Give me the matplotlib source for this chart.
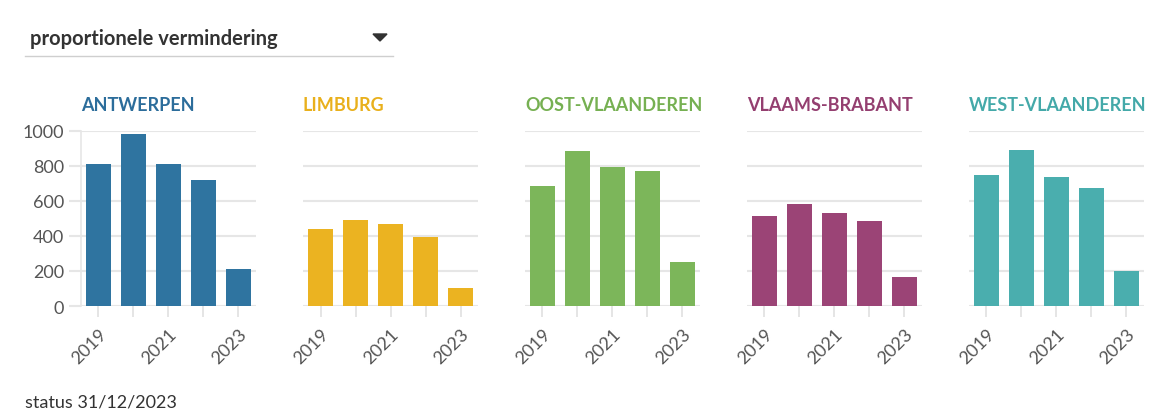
import numpy as np
import matplotlib
matplotlib.use("Agg")
import matplotlib.pyplot as plt
from matplotlib.lines import Line2D
from matplotlib.patches import Polygon

plt.rcParams['font.family'] = ['Lato', 'DejaVu Sans']

years = [2019, 2020, 2021, 2022, 2023]
year_labels = ["2019", "", "2021", "", "2023"]
provinces = ["ANTWERPEN", "LIMBURG", "OOST-VLAANDEREN", "VLAAMS-BRABANT", "WEST-VLAANDEREN"]
antwerpen = [809, 983, 811, 722, 209]
limburg = [438, 489, 468, 392, 104]
oost_vlaanderen = [683, 885, 794, 770, 251]
vlaams_brabant = [515, 581, 530, 487, 166]
west_vlaanderen = [749, 891, 738, 677, 198]
values = [antwerpen, limburg, oost_vlaanderen, vlaams_brabant, west_vlaanderen]
colors = ["#2f74a0", "#ebb321", "#7cb65a", "#9b4476", "#4aaeae"]
title_colors = ["#2c6d9b", "#e9b01c", "#76b052", "#943f70", "#44a9a9"]
y_ticks = [0, 200, 400, 600, 800, 1000]

W, H = 1171, 414
fig = plt.figure(figsize=(W / 100, H / 100), dpi=100)
fig.patch.set_facecolor("white")

# dropdown header
fig.text(30 / W, 1 - 39 / H, "proportionele vermindering", fontsize=14.5, fontweight="bold",
         color="#333333", va="center", ha="left")
fig.add_artist(Line2D([25 / W, 393 / W], [1 - 57 / H, 1 - 57 / H], transform=fig.transFigure,
                      color="#cfcfcf", lw=1))
fig.add_artist(Polygon([[373 / W, 1 - 35 / H], [387 / W, 1 - 35 / H], [380 / W, 1 - 42 / H]],
                       closed=True, transform=fig.transFigure, color="#333333"))

ax_bottom = (H - 307) / H
ax_height = 175 / H
for i, (name, vals) in enumerate(zip(provinces, values)):
    left = (81 + i * 222) / W
    ax = fig.add_axes([left, ax_bottom, 175 / W, ax_height])
    ax.bar(years, vals, width=0.74, color=colors[i], zorder=2)
    ax.set_xlim(2018.5, 2023.5)
    ax.set_ylim(0, 1000)
    ax.set_yticks(y_ticks)
    ax.yaxis.grid(True, color="#e6e6e6", lw=1.5, zorder=0)
    ax.set_xticks(years)
    ax.set_xticklabels(year_labels, rotation=45, ha="right", rotation_mode="anchor")
    ax.tick_params(axis="x", length=8, width=1.2, color="#e0e0e0", labelsize=13,
                   labelcolor="#555555", pad=6)
    for s in ["top", "right", "bottom"]:
        ax.spines[s].set_visible(False)
    if i == 0:
        ax.spines["left"].set_color("#e6e6e6")
        ax.spines["left"].set_linewidth(1.2)
        ax.tick_params(axis="y", length=9, width=1.5, color="#e6e6e6", labelsize=13,
                       labelcolor="#555555", pad=3)
    else:
        ax.spines["left"].set_visible(False)
        ax.tick_params(axis="y", left=False, labelleft=False)
    ax.set_axisbelow(True)
    ax.text(0, 1 + 21 / 175, name, transform=ax.transAxes, fontsize=13, fontweight="bold",
            color=title_colors[i], ha="left", va="baseline")

fig.text(25 / W, 1 - 403 / H, "status 31/12/2023", fontsize=13, color="#333333",
         va="center", ha="left")

fig.savefig("out.png", dpi=100)
